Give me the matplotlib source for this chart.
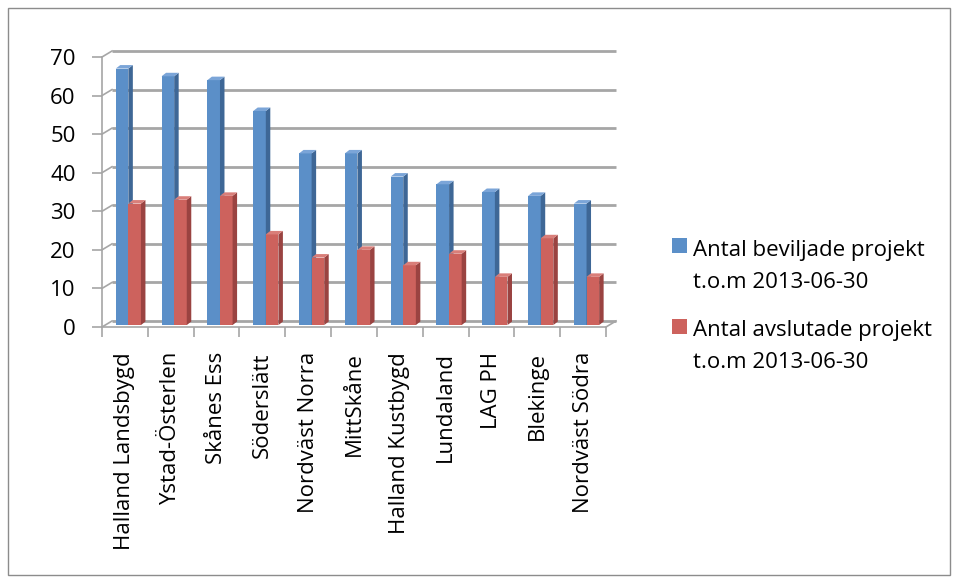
import numpy as np
import matplotlib.pyplot as plt
from matplotlib.patches import Polygon, Rectangle

# data
categories = ['Halland Landsbygd', 'Ystad-Österlen', 'Skånes Ess', 'Söderslätt',
              'Nordväst Norra', 'MittSkåne', 'Halland Kustbygd', 'Lundaland',
              'LAG PH', 'Blekinge', 'Nordväst Södra']
beviljade = [67, 65, 64, 56, 45, 45, 39, 37, 35, 34, 32]
avslutade = [32, 33, 34, 24, 18, 20, 16, 19, 13, 23, 13]
series_labels = [['Antal beviljade projekt', 't.o.m 2013-06-30'],
                 ['Antal avslutade projekt', 't.o.m 2013-06-30']]
yticks = [0, 10, 20, 30, 40, 50, 60, 70]

plt.rcParams['font.family'] = ['Open Sans', 'DejaVu Sans']
fs = 16

W, H = 957, 581
fig = plt.figure(figsize=(W / 100, H / 100), dpi=100)

# front axis box in pixels
x0, x1, y0, y1 = 102, 606, 327, 57
ax = fig.add_axes([x0 / W, 1 - y0 / H, (x1 - x0) / W, (y0 - y1) / H])
n = len(categories)
ax.set_xlim(0, n)
ax.set_ylim(0, 70)
for s in ax.spines.values():
    s.set_visible(False)

# depth offsets (data units) for the 3D look
wall_dx, wall_dy = 10 / 45.8, 6 / 3.857
bar_dx, bar_dy = 4.5 / 45.8, 3.5 / 3.857
grid_col = '#a6a6a6'

# back wall gridlines and connectors to the front axis
for v in yticks:
    ax.plot([wall_dx, n + wall_dx], [v + wall_dy, v + wall_dy], color=grid_col, lw=2,
            clip_on=False, zorder=1, solid_capstyle='butt')
    ax.plot([0, wall_dx], [v, v + wall_dy], color=grid_col, lw=1.2, clip_on=False, zorder=1)
# floor
ax.plot([0, n], [0, 0], color=grid_col, lw=1.2, clip_on=False, zorder=1)
ax.plot([n, n + wall_dx], [0, wall_dy], color=grid_col, lw=1.2, clip_on=False, zorder=1)
ax.plot([0, 0], [0, 70], color=grid_col, lw=1.2, clip_on=False, zorder=1)

# bars
bw = 0.275
series = [(beviljade, 0.30, ('#5b8fc8', '#3e6796', '#7ba5d8')),
          (avslutade, 0.575, ('#cd625d', '#9a4341', '#d97e79'))]
base = 0.5
for vals, off, (front, side, top) in series:
    for i, v in enumerate(vals):
        l = i + off
        r = l + bw
        ax.add_patch(Rectangle((l, base), bw, v - base, facecolor=front, edgecolor='none', zorder=3))
        ax.add_patch(Polygon([(r, base), (r + bar_dx, base + bar_dy), (r + bar_dx, v + bar_dy), (r, v)],
                             closed=True, facecolor=side, edgecolor='none', zorder=3))
        ax.add_patch(Polygon([(l, v), (r, v), (r + bar_dx, v + bar_dy), (l + bar_dx, v + bar_dy)],
                             closed=True, facecolor=top, edgecolor='none', zorder=3))

# ticks and labels
ax.set_yticks(yticks)
ax.set_yticklabels([str(v) for v in yticks], fontsize=fs)
ax.tick_params(axis='y', length=7, color=grid_col, width=1.2, pad=12)
ax.set_xticks(np.arange(n + 1))
ax.set_xticklabels([])
ax.tick_params(axis='x', which='major', length=7, color=grid_col, width=1.2)
ax.set_xticks(np.arange(n) + 0.5, minor=True)
ax.set_xticklabels(categories, minor=True, rotation=90, fontsize=fs, va='top')
ax.tick_params(axis='x', which='minor', length=0, pad=18)

# legend
colors = ['#5b8fc8', '#cd625d']
sq_top = [238, 319]
baselines = [[256, 288], [336, 368]]
for c, t, lab, bl in zip(colors, sq_top, series_labels, baselines):
    fig.patches.append(Rectangle((672 / W, 1 - (t + 15) / H), 15 / W, 15 / H, facecolor=c,
                                 edgecolor='none', transform=fig.transFigure))
    for line, b in zip(lab, bl):
        fig.text(693 / W, 1 - b / H, line, fontsize=fs, va='baseline', ha='left')

# outer border
fig.patches.append(Rectangle((8 / W, 1 - 575 / H), 942 / W, 567 / H, fill=False,
                             edgecolor='#8c8c8c', lw=1, transform=fig.transFigure))

fig.savefig('out.png', dpi=100)
